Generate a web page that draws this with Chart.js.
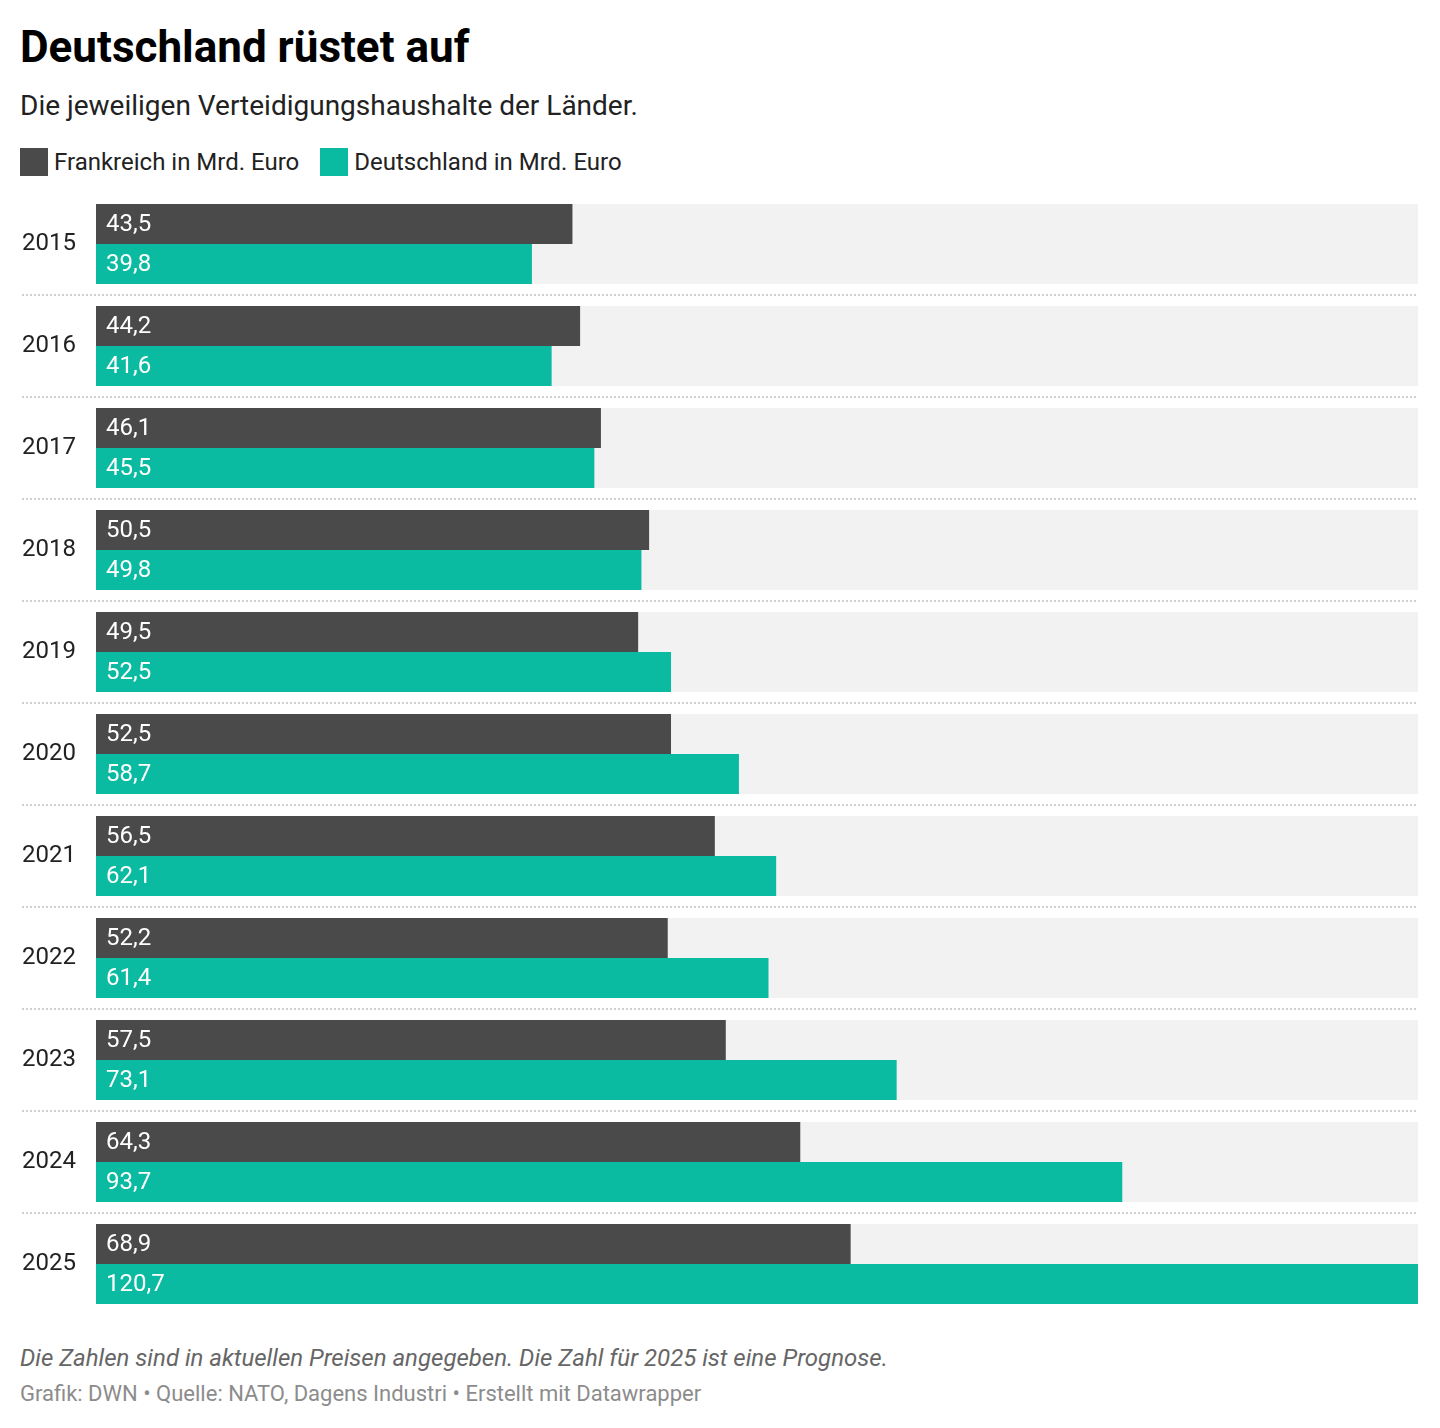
<!DOCTYPE html>
<html lang="de">
<head>
<meta charset="utf-8">
<title>Deutschland rüstet auf</title>
<script src="https://cdn.jsdelivr.net/npm/chart.js@4.4.1/dist/chart.umd.min.js"></script>
<style>
    html, body {
        margin: 0;
        padding: 0;
        background: #ffffff;
        font-family: Roboto, sans-serif;
    }
    .page {
        position: relative;
        width: 1440px;
        height: 1428px;
        overflow: hidden;
    }
    .title {
        position: absolute;
        left: 20px;
        top: 21px;
        margin: 0;
        font-size: 44px;
        line-height: normal;
        font-weight: 700;
        color: #000;
    }
    .subtitle {
        position: absolute;
        left: 20px;
        top: 89px;
        font-size: 28px;
        color: #222;
    }
    .legend {
        position: absolute;
        left: 20px;
        top: 148px;
        height: 28px;
        display: flex;
        align-items: center;
        font-size: 24px;
        color: #222;
    }
    .legend-item {
        display: flex;
        align-items: center;
        margin-right: 21px;
    }
    .legend-swatch {
        width: 28px;
        height: 28px;
        margin-right: 6px;
    }
    .chart-wrap {
        position: absolute;
        left: 0;
        top: 193px;
        width: 1440px;
        height: 1122px;
    }
    .notes {
        position: absolute;
        left: 20px;
        top: 1344px;
        font-size: 24px;
        font-style: italic;
        color: #666;
    }
    .credits {
        position: absolute;
        left: 20px;
        top: 1381px;
        font-size: 22px;
        color: #8c8c8c;
    }
</style>
</head>
<body>
<div class="page">
    <h1 class="title">Deutschland rüstet auf</h1>
    <div class="subtitle">Die jeweiligen Verteidigungshaushalte der Länder.</div>
    <div class="legend" id="legend"></div>
    <div class="chart-wrap">
        <canvas id="budgetChart"></canvas>
    </div>
    <div class="notes">Die Zahlen sind in aktuellen Preisen angegeben. Die Zahl für 2025 ist eine Prognose.</div>
    <div class="credits">Grafik: DWN • Quelle: NATO, Dagens Industri • Erstellt mit Datawrapper</div>
</div>

<script>
// Data
const years = ['2015', '2016', '2017', '2018', '2019', '2020', '2021', '2022', '2023', '2024', '2025'];
const frankreich = [43.5, 44.2, 46.1, 50.5, 49.5, 52.5, 56.5, 52.2, 57.5, 64.3, 68.9];
const deutschland = [39.8, 41.6, 45.5, 49.8, 52.5, 58.7, 62.1, 61.4, 73.1, 93.7, 120.7];
const seriesNames = ['Frankreich in Mrd. Euro', 'Deutschland in Mrd. Euro'];
const xMax = 120.7;

const DARK = '#4a4a4a';
const TEAL = '#0abba1';

// Build HTML legend
function buildLegend() {
    const legend = document.getElementById('legend');
    const colors = [DARK, TEAL];
    legend.innerHTML = seriesNames.map((name, i) => `
        <div class="legend-item">
            <span class="legend-swatch" style="background: ${colors[i]}"></span>
            <span>${name}</span>
        </div>
    `).join('');
}

// Gray row backgrounds + dotted separators between rows
const rowBackgrounds = {
    id: 'rowBackgrounds',
    beforeDatasetsDraw(chart) {
        const { ctx, chartArea, scales } = chart;
        const y = scales.y;
        const step = y.getPixelForValue(1) - y.getPixelForValue(0);
        const rowHeight = step * 0.784;
        ctx.save();
        ctx.fillStyle = '#f2f2f2';
        years.forEach((_, i) => {
            const cy = y.getPixelForValue(i);
            ctx.fillRect(chartArea.left, cy - rowHeight / 2, chartArea.right - chartArea.left, rowHeight);
        });
        ctx.strokeStyle = '#d0d0d0';
        ctx.lineWidth = 2;
        ctx.setLineDash([2, 2]);
        for (let i = 0; i < years.length - 1; i++) {
            const sy = Math.round((y.getPixelForValue(i) + y.getPixelForValue(i + 1)) / 2);
            ctx.beginPath();
            ctx.moveTo(22, sy);
            ctx.lineTo(chartArea.right, sy);
            ctx.stroke();
        }
        ctx.restore();
    }
};

// White value labels inside the bars
const valueLabels = {
    id: 'valueLabels',
    afterDatasetsDraw(chart) {
        const { ctx } = chart;
        ctx.save();
        ctx.font = '24px Roboto';
        ctx.fillStyle = '#ffffff';
        ctx.textBaseline = 'middle';
        ctx.textAlign = 'left';
        chart.data.datasets.forEach((ds, di) => {
            const meta = chart.getDatasetMeta(di);
            meta.data.forEach((bar, i) => {
                const label = ds.data[i].toFixed(1).replace('.', ',');
                ctx.fillText(label, bar.base + 10, bar.y + 1);
            });
        });
        ctx.restore();
    }
};

function initializeChart() {
    const ctx = document.getElementById('budgetChart');
    if (!ctx) return;

    new Chart(ctx, {
        type: 'bar',
        data: {
            labels: years,
            datasets: [{
                label: seriesNames[0],
                data: frankreich,
                backgroundColor: DARK,
                borderWidth: 0
            }, {
                label: seriesNames[1],
                data: deutschland,
                backgroundColor: TEAL,
                borderWidth: 0
            }]
        },
        options: {
            indexAxis: 'y',
            responsive: false,
            maintainAspectRatio: false,
            animation: false,
            categoryPercentage: 0.784,
            barPercentage: 1,
            layout: {
                padding: { left: 22, right: 22, top: 0, bottom: 0 }
            },
            plugins: {
                legend: { display: false },
                tooltip: { enabled: false }
            },
            scales: {
                x: {
                    display: false,
                    min: 0,
                    max: xMax
                },
                y: {
                    border: { display: false },
                    grid: { display: false, drawTicks: false },
                    ticks: {
                        crossAlign: 'far',
                        padding: 0,
                        color: '#222',
                        font: { family: 'Roboto', size: 24 }
                    },
                    afterFit(scale) {
                        scale.width = 74;
                        scale.paddingTop = 0;
                        scale.paddingBottom = 0;
                    }
                }
            }
        },
        plugins: [rowBackgrounds, valueLabels]
    });
}

document.addEventListener('DOMContentLoaded', function() {
    buildLegend();
    const canvas = document.getElementById('budgetChart');
    canvas.width = 1440;
    canvas.height = 1122;
    canvas.style.width = '1440px';
    canvas.style.height = '1122px';
    Promise.all([
        document.fonts.load('24px Roboto')
    ]).catch(() => {}).then(initializeChart);
});
</script>
</body>
</html>
